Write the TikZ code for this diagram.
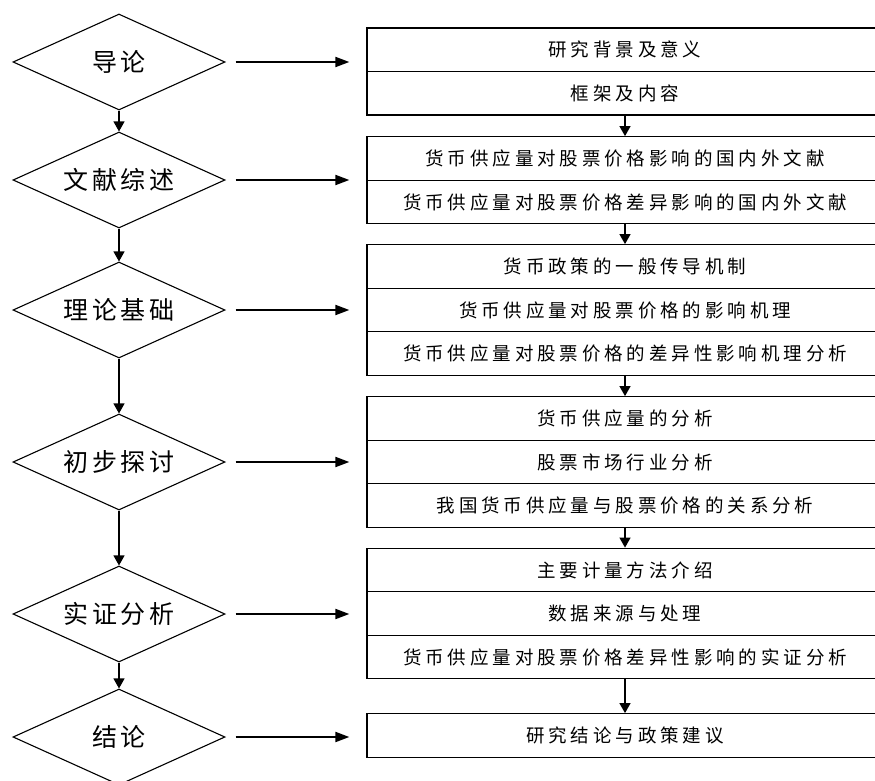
\documentclass[tikz,border=0pt]{standalone}
\usepackage{fontspec}
\newfontfamily\cjkbox[LetterSpace=21]{Noto Sans CJK SC}
\newfontfamily\cjkdia[LetterSpace=14]{Noto Sans CJK SC}
\usetikzlibrary{shapes.geometric,arrows.meta}
\begin{document}
\begin{tikzpicture}[x=1pt,y=-1pt,
  dia/.style={draw,line width=1.1pt,shape=diamond,shape aspect=2.2,inner sep=0pt,
    minimum width=212pt,minimum height=96pt,font=\cjkdia\fontsize{25}{25}\selectfont},
  row/.style={draw,line width=1.3pt,rectangle,minimum width=516pt,minimum height=43.5pt,
    inner sep=0pt,font=\cjkbox\fontsize{18.5}{18.5}\selectfont},
  varrow/.style={line width=1.2pt,-{Triangle[length=10pt,width=11pt]}},
  harrow/.style={line width=2pt,-{Triangle[length=14pt,width=10pt]}}]
\useasboundingbox (0,0) rectangle (875,781);
% diamonds
\node[dia] (d1) at (119,62) {导论};
\node[dia] (d2) at (119,180) {文献综述};
\node[dia] (d3) at (119,310) {理论基础};
\node[dia] (d4) at (119,462) {初步探讨};
\node[dia] (d5) at (119,614) {实证分析};
\node[dia] (d6) at (119,737) {结论};
% boxes
\node[row] (b11) at (625,49.75) {研究背景及意义};
\node[row] (b12) at (625,93.25) {框架及内容};
\node[row] (b21) at (625,158.5) {货币供应量对股票价格影响的国内外文献};
\node[row] (b22) at (625,202) {货币供应量对股票价格差异影响的国内外文献};
\node[row] (b31) at (625,266.5) {货币政策的一般传导机制};
\node[row] (b32) at (625,310) {货币供应量对股票价格的影响机理};
\node[row] (b33) at (625,353.5) {货币供应量对股票价格的差异性影响机理分析};
\node[row] (b41) at (625,418.5) {货币供应量的分析};
\node[row] (b42) at (625,462) {股票市场行业分析};
\node[row] (b43) at (625,505.5) {我国货币供应量与股票价格的关系分析};
\node[row] (b51) at (625,570) {主要计量方法介绍};
\node[row] (b52) at (625,613.5) {数据来源与处理};
\node[row] (b53) at (625,657) {货币供应量对股票价格差异性影响的实证分析};
\node[row] (b61) at (625,735.5) {研究结论与政策建议};
% left chain
\draw[varrow] (d1.south) -- (d2.north);
\draw[varrow] (d2.south) -- (d3.north);
\draw[varrow] (d3.south) -- (d4.north);
\draw[varrow] (d4.south) -- (d5.north);
\draw[varrow] (d5.south) -- (d6.north);
% right chain
\draw[varrow] (b12.south) -- (b21.north);
\draw[varrow] (b22.south) -- (b31.north);
\draw[varrow] (b33.south) -- (b41.north);
\draw[varrow] (b43.south) -- (b51.north);
\draw[varrow] (b53.south) -- (b61.north);
% horizontal arrows
\foreach \i/\b in {1/b11,2/b21,3/b32,4/b42,5/b52,6/b61}{
  \coordinate (s\i) at ([xshift=10pt]d\i.east);
  \coordinate (e\i) at ([xshift=-17pt]\b.west |- d\i.east);
  \draw[harrow] (s\i) -- (e\i);
}
\end{tikzpicture}
\end{document}
